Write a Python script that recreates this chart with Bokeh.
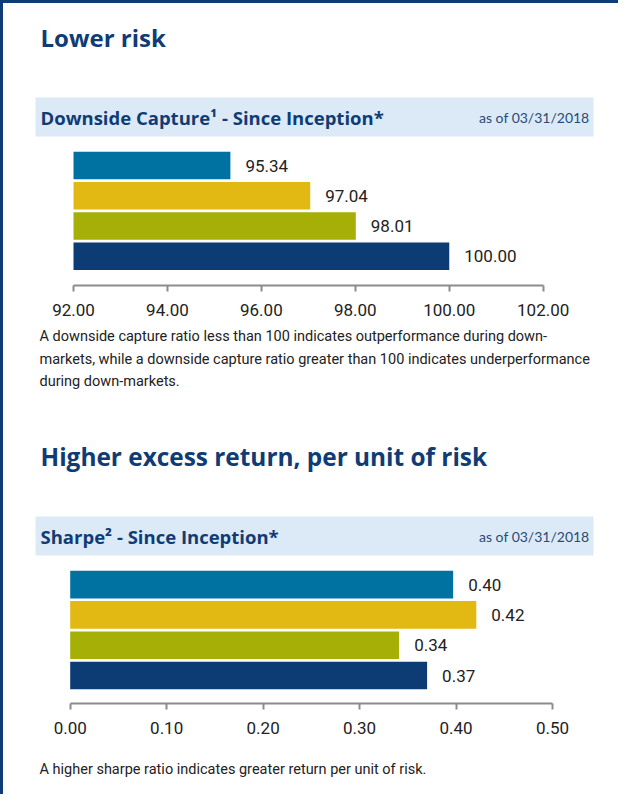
from bokeh.plotting import figure
from bokeh.layouts import column
from bokeh.models import Range1d, FixedTicker, NumeralTickFormatter
from bokeh.core.properties import value
from bokeh.embed import file_html
from bokeh.resources import INLINE

# ---------------- data ----------------
categories = ["Series 1", "Series 2", "Series 3", "Series 4"]
bar_colors = ["#0072a2", "#e2b913", "#a6af06", "#0d3b74"]

downside_values = [95.34, 97.04, 98.01, 100.00]
downside_ticks = [92.0, 94.0, 96.0, 98.0, 100.0, 102.0]

sharpe_values = [0.397, 0.421, 0.341, 0.370]
sharpe_ticks = [0.0, 0.1, 0.2, 0.3, 0.4, 0.5]

title_1 = "Lower risk"
header_1 = "Downside Capture\u00b9 - Since Inception*"
caption_1 = [
    "A downside capture ratio less than 100 indicates outperformance during down-",
    "markets, while a downside capture ratio greater than 100 indicates underperformance",
    "during down-markets.",
]
title_2 = "Higher excess return, per unit of risk"
header_2 = "Sharpe\u00b2 - Since Inception*"
caption_2 = ["A higher sharpe ratio indicates greater return per unit of risk."]
as_of = "as of 03/31/2018"

# ---------------- styles ----------------
W = 618
NAVY = "#0f3c74"
BAND = "#dceaf8"
TXT = "#222222"
AXIS = "#8c8c8c"
HEAD_FONT = value("Open Sans")
DATE_FONT = value("Lato")
COND = "Roboto"
COND_FONT = value(COND)


def canvas(top, bottom):
    p = figure(width=W, height=bottom - top, x_range=Range1d(8, 626),
               y_range=Range1d(bottom, top), x_axis_location=None,
               y_axis_location=None, output_backend="svg",
               toolbar_location=None, min_border=0)
    p.grid.visible = False
    p.outline_line_color = None
    p.background_fill_color = None
    p.border_fill_color = None
    return p


def header(p, title, title_y, title_size, band_top, band_bottom, head):
    p.text(x=[48], y=[title_y], text=[title], text_font=HEAD_FONT,
           text_font_style="bold", text_font_size=title_size, text_color=NAVY,
           text_baseline="middle")
    p.quad(left=[43], right=[601], top=[band_top], bottom=[band_bottom],
           color=BAND, line_color=None)
    mid = (band_top + band_bottom) / 2
    p.text(x=[48], y=[mid], text=[head], text_font=HEAD_FONT,
           text_font_style="bold", text_font_size="18.5px", text_color=NAVY,
           text_baseline="middle")
    p.text(x=[597], y=[mid], text=[as_of], text_font=DATE_FONT,
           text_font_size="14px", text_color="#2a4a75", text_baseline="middle",
           text_align="right")


def captions(p, lines, y0, dy):
    p.text(x=[47] * len(lines), y=[y0 + i * dy for i in range(len(lines))],
           text=lines, text_font=COND_FONT, text_font_size="14.5px",
           text_color=TXT, text_baseline="middle")


def bar_chart(top, axis_y, bottom, c_first, c_last, bar_px,
              px0, px1, values, ticks):
    n = len(values)
    step = (c_last - c_first) / (n - 1)
    y_start = (axis_y - c_first) / step
    y_end = (top - c_first) / step
    t0, t1 = ticks[0], ticks[-1]
    scale = (px1 - px0) / (t1 - t0)
    x_start = t0 - (px0 - 8) / scale
    x_end = t1 + (626 - px1) / scale
    p = figure(width=W, height=bottom - top,
               x_range=Range1d(x_start, x_end), y_range=Range1d(y_start, y_end),
               y_axis_location=None, x_axis_location="below",
               output_backend="svg", toolbar_location=None,
               min_border=0, min_border_bottom=bottom - axis_y)
    p.grid.visible = False
    p.outline_line_color = None
    p.background_fill_color = None
    p.border_fill_color = None
    ypos = list(range(n))
    p.hbar(y=ypos, left=t0, right=values, height=bar_px / step,
           color=bar_colors, line_color=None)
    p.text(x=values, y=ypos, text=["%.2f" % v for v in values], x_offset=15,
           text_font=COND_FONT, text_font_size="17px", text_color=TXT,
           text_baseline="middle")
    ax = p.xaxis[0]
    ax.ticker = FixedTicker(ticks=ticks)
    ax.formatter = NumeralTickFormatter(format="0.00")
    ax.bounds = (t0, t1)
    ax.axis_line_color = AXIS
    ax.axis_line_width = 2
    ax.major_tick_line_color = AXIS
    ax.major_tick_line_width = 2
    ax.major_tick_in = 0
    ax.major_tick_out = 6
    ax.minor_tick_out = 0
    ax.minor_tick_in = 0
    ax.major_label_standoff = 12
    ax.major_label_text_font = COND
    ax.major_label_text_font_size = "17px"
    ax.major_label_text_color = TXT
    return p


# ---- section 1 header ----
p1 = canvas(8, 150)
header(p1, title_1, 45, "24px", 105, 144, header_1)

# ---- chart 1 ----
p2 = bar_chart(150, 293, 332, 173.0, 263.75, 27.4, 81, 550.7,
               downside_values, downside_ticks)

# ---- caption 1 + section 2 header ----
p3 = canvas(332, 570)
captions(p3, caption_1, 344, 22.5)
header(p3, title_2, 464, "24.4px", 524, 563, header_2)

# ---- chart 2 ----
p4 = bar_chart(570, 711, 750, 592.2, 683.0, 27.7, 77.7, 560,
               sharpe_values, sharpe_ticks)

# ---- caption 2 ----
p5 = canvas(750, 802)
captions(p5, caption_2, 777, 22.5)

page_border = {
    "background-image": "linear-gradient(#0f3c74, #0f3c74), linear-gradient(#0f3c74, #0f3c74)",
    "background-size": "3px 100%, 100% 3px",
    "background-repeat": "no-repeat",
    "background-position": "0 0, 0 0",
    "background-color": "white",
}
layout = column(p1, p2, p3, p4, p5, spacing=0, styles=page_border)
open("out.html", "w").write(file_html(layout, INLINE))
